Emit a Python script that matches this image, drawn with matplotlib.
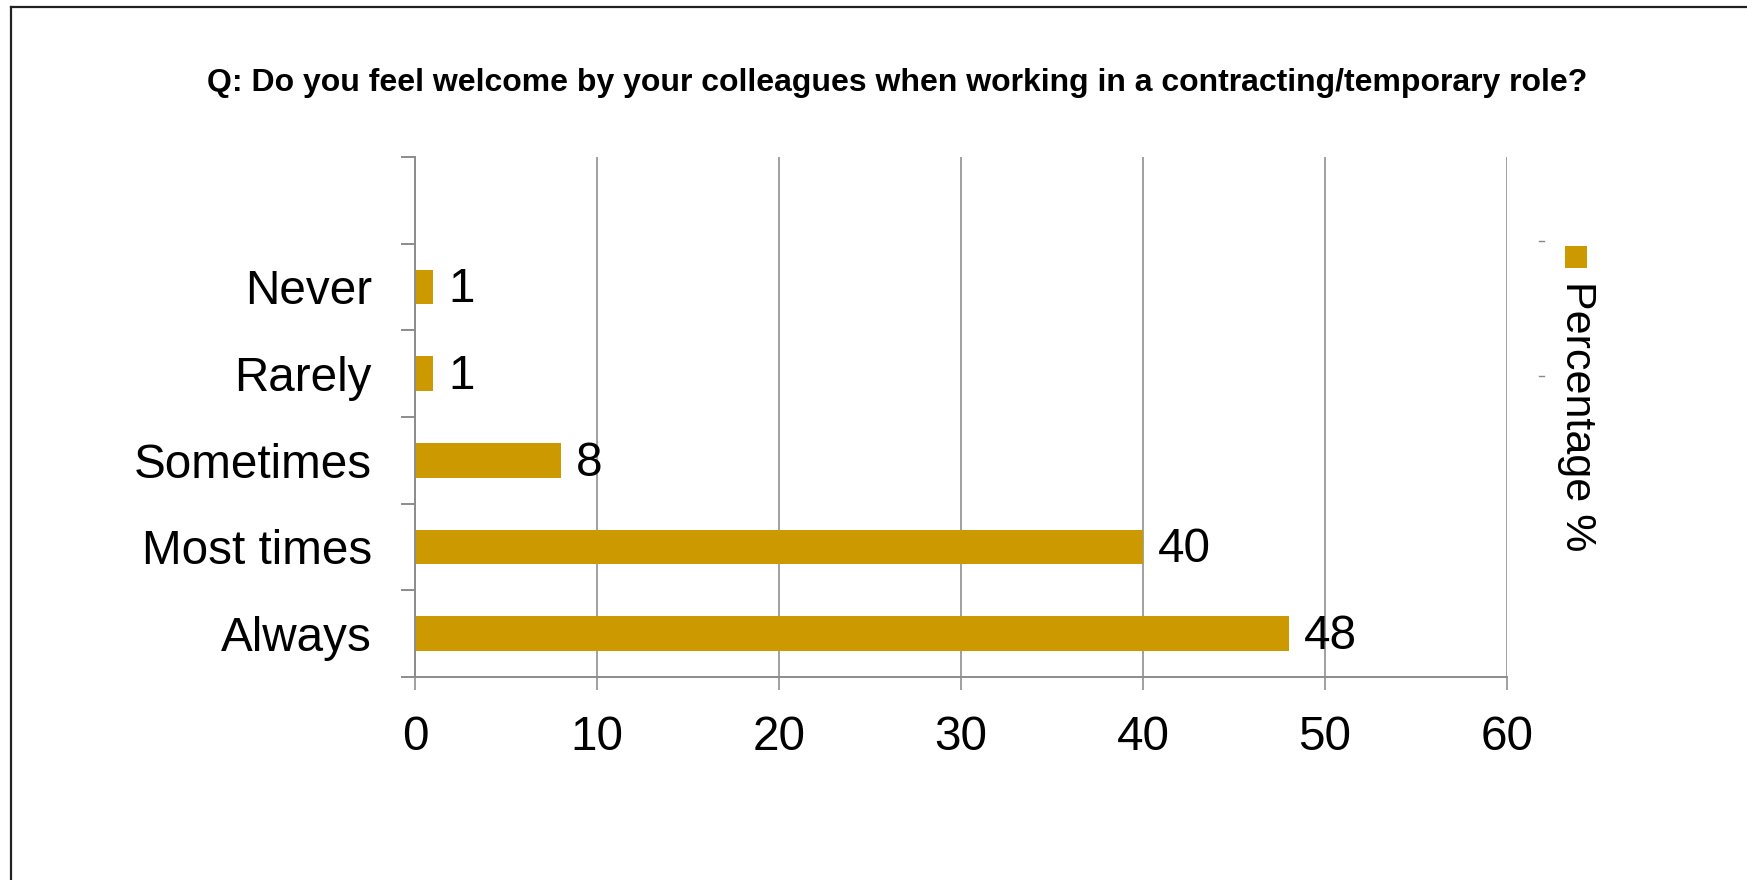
import matplotlib
matplotlib.use("Agg")
import matplotlib.pyplot as plt
from matplotlib.lines import Line2D
from matplotlib.patches import Rectangle
from matplotlib.ticker import FixedLocator

categories = ["Always", "Most times", "Sometimes", "Rarely", "Never"]
values = [48, 40, 8, 1, 1]
xticks = [0, 10, 20, 30, 40, 50, 60]
title = "Q: Do you feel welcome by your colleagues when working in a contracting/temporary role?"
series_name = "Percentage %"

W, H = 1747, 880
DPI = 100
FS = 34.3
plt.rcParams['font.family'] = ['Liberation Sans', 'DejaVu Sans']

fig = plt.figure(figsize=(W / DPI, H / DPI), dpi=DPI)
fig.patch.set_facecolor('white')

x0, x1 = 415, 1507
y_top, y_bot = 157, 677
ax = fig.add_axes([x0 / W, (H - y_bot) / H, (x1 - x0) / W, (y_bot - y_top) / H])

bar_color = '#CC9900'
grid_color = '#a0a0a0'
spine_color = '#8c8c8c'

ypos = list(range(len(categories)))
ax.barh(ypos, values, height=0.4, color=bar_color, zorder=3)
ax.set_xlim(0, 60)
ax.set_ylim(-0.5, len(categories) + 0.5)

for y, v in zip(ypos, values):
    ax.annotate(str(v), (v, y), xytext=(11, -2), textcoords='offset points',
                va='center', ha='left', fontsize=FS, color='black', zorder=4)

ax.set_xticks(xticks)
ax.set_xticklabels([str(t) for t in xticks], fontsize=FS)
ax.tick_params(axis='x', length=9.4, width=1.4, color=grid_color, pad=18, direction='out')
ax.set_yticks(ypos)
ax.set_yticklabels(categories, fontsize=FS)
ax.tick_params(axis='y', which='major', length=0, pad=31)
ax.yaxis.set_minor_locator(FixedLocator([i - 0.5 for i in range(len(categories) + 2)]))
ax.tick_params(axis='y', which='minor', length=10, width=1.4, color=spine_color, direction='out')

ax.grid(axis='x', color=grid_color, linewidth=1.4, zorder=1)
for s in ['top', 'right']:
    ax.spines[s].set_visible(False)
for s in ['left', 'bottom']:
    ax.spines[s].set_color(spine_color)
    ax.spines[s].set_linewidth(1.4)
    ax.spines[s].set_zorder(5)

fig.text(897 / W, 1 - 83 / H, title, ha='center', va='center', fontsize=23,
         fontweight='bold', color='black')

# legend (rotated)
fig.patches.append(Rectangle((1565 / W, 1 - 268 / H), 22 / W, 22 / H,
                             transform=fig.transFigure, facecolor=bar_color,
                             edgecolor='none', figure=fig))
fig.text(1577 / W, 1 - 281 / H, series_name, rotation=270, ha='center', va='top',
         fontsize=31, color='black', rotation_mode='default')
for yy in (241, 376):
    fig.add_artist(Line2D([1539 / W, 1544 / W], [1 - yy / H, 1 - yy / H],
                          color='#888888', linewidth=1.0, transform=fig.transFigure))

# outer border
fig.add_artist(Line2D([10.5 / W, 10.5 / W], [0, 1 - 7 / H], color='#222222',
                      linewidth=1.6, transform=fig.transFigure))
fig.add_artist(Line2D([10.5 / W, 1], [1 - 7 / H, 1 - 7 / H], color='#222222',
                      linewidth=1.6, transform=fig.transFigure))

fig.savefig('out.png', dpi=DPI, facecolor='white')
